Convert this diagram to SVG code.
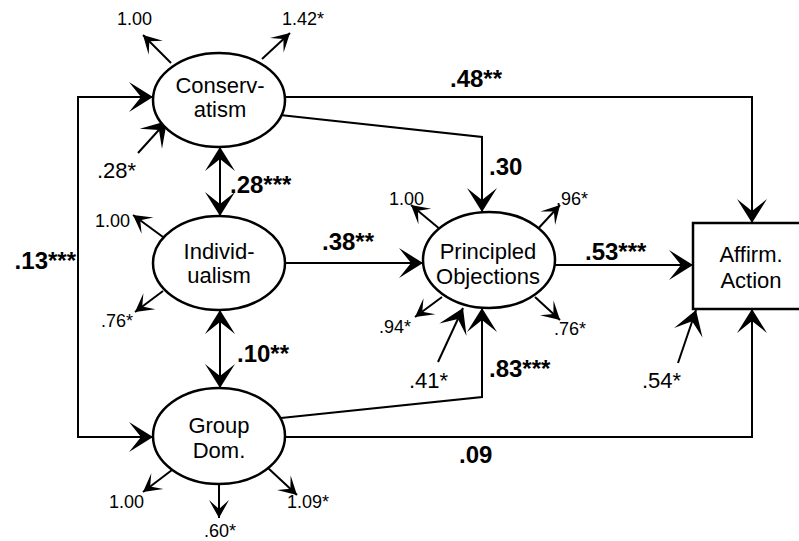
<svg xmlns="http://www.w3.org/2000/svg" width="799" height="541" viewBox="0 0 799 541">
<defs>
<style>
.node{fill:#fff;stroke:#000;stroke-width:2.5}
.lbl{font-family:"Liberation Sans",Arial,sans-serif;font-size:22px;fill:#000;text-anchor:middle}
.path{fill:none;stroke:#000;stroke-width:2}
.b{font-family:"Liberation Sans",Arial,sans-serif;font-size:24px;font-weight:bold;fill:#000}
.m{font-family:"Liberation Sans",Arial,sans-serif;font-size:22px;fill:#000}
.s{font-family:"Liberation Sans",Arial,sans-serif;font-size:18px;fill:#000}
.big{marker-end:url(#bigA)}
.sm{marker-end:url(#smA)}
.dbl{marker-start:url(#bigA);marker-end:url(#bigA)}
</style>
<marker id="bigA" viewBox="-26 -17 27 34" refX="0" refY="0" markerWidth="27" markerHeight="34" markerUnits="userSpaceOnUse" orient="auto-start-reverse">
<path d="M0,0 L-24,-15 L-12,0 L-24,15 Z" fill="#000"/>
</marker>
<marker id="smA" viewBox="-19 -12 20 24" refX="0" refY="0" markerWidth="20" markerHeight="24" markerUnits="userSpaceOnUse" orient="auto">
<path d="M0,0 L-18,-10 L-9,0 L-18,10 Z" fill="#000"/>
</marker>
</defs>
<rect width="799" height="541" fill="#fff"/>
<g id="connectors">
<path class="path big" d="M285,97 H752 V223"/>
<path class="path big" d="M280,115 L482,137 V212"/>
<path class="path big" d="M285,263 H423"/>
<path class="path big" d="M555,265 H693"/>
<path class="path big" d="M285,437 H752 V309"/>
<path class="path big" d="M281,418 L482,397 V308"/>
<path class="path dbl" d="M153,97 H78 V437 H153"/>
<path class="path dbl" d="M220,147 V216"/>
<path class="path dbl" d="M220,310 V388"/>
<path class="path big" d="M138,153 L167,121"/>
<path class="path big" d="M438,362 L463,308"/>
<path class="path big" d="M678,363 L696,310"/>
<path class="path sm" d="M171,63 L143,35"/>
<path class="path sm" d="M262,59 L290,33"/>
<path class="path sm" d="M163,237 L133,215"/>
<path class="path sm" d="M163,291 L135,312"/>
<path class="path sm" d="M172,470 L143,492"/>
<path class="path sm" d="M219,483 V518"/>
<path class="path sm" d="M268,468 L297,495"/>
<path class="path sm" d="M441,230 L411,205"/>
<path class="path sm" d="M535,232 L560,205"/>
<path class="path sm" d="M442,297 L415,317"/>
<path class="path sm" d="M535,297 L560,320"/>
</g>
<g id="conservatism">
<ellipse class="node" cx="219" cy="100" rx="66" ry="47"/>
<text class="lbl" x="220" y="93">Conserv-</text>
<text class="lbl" x="220" y="117">atism</text>
</g>
<g id="individualism">
<ellipse class="node" cx="219" cy="263" rx="66" ry="47"/>
<text class="lbl" x="219" y="259">Individ-</text>
<text class="lbl" x="219" y="283">ualism</text>
</g>
<g id="group-dom">
<ellipse class="node" cx="219" cy="436" rx="66" ry="48"/>
<text class="lbl" x="219" y="433">Group</text>
<text class="lbl" x="219" y="458">Dom.</text>
</g>
<g id="principled-objections">
<ellipse class="node" cx="489" cy="260" rx="66" ry="48"/>
<text class="lbl" x="488" y="259">Principled</text>
<text class="lbl" x="488" y="284">Objections</text>
</g>
<g id="affirm-action">
<rect class="node" x="693" y="223" width="122" height="86"/>
<text class="lbl" x="751" y="262">Affirm.</text>
<text class="lbl" x="751" y="288">Action</text>
</g>
<g id="labels">
<text class="b" x="450" y="87">.48**</text>
<text class="b" x="489" y="175">.30</text>
<text class="b" x="230" y="193">.28***</text>
<text class="b" x="322" y="250">.38**</text>
<text class="b" x="585" y="260">.53***</text>
<text class="b" x="237" y="362">.10**</text>
<text class="b" x="489" y="377">.83***</text>
<text class="b" x="459" y="463">.09</text>
<text class="b" x="76" y="269" text-anchor="end">.13***</text>
<text class="m" x="97" y="178">.28*</text>
<text class="m" x="409" y="388">.41*</text>
<text class="m" x="642" y="388">.54*</text>
<text class="s" x="117" y="25">1.00</text>
<text class="s" x="282" y="25">1.42*</text>
<text class="s" x="95" y="227">1.00</text>
<text class="s" x="101" y="327">.76*</text>
<text class="s" x="109" y="508">1.00</text>
<text class="s" x="204" y="537">.60*</text>
<text class="s" x="287" y="508">1.09*</text>
<text class="s" x="389" y="205">1.00</text>
<text class="s" x="556" y="205">.96*</text>
<text class="s" x="379" y="333">.94*</text>
<text class="s" x="554" y="335">.76*</text>
</g>
</svg>
